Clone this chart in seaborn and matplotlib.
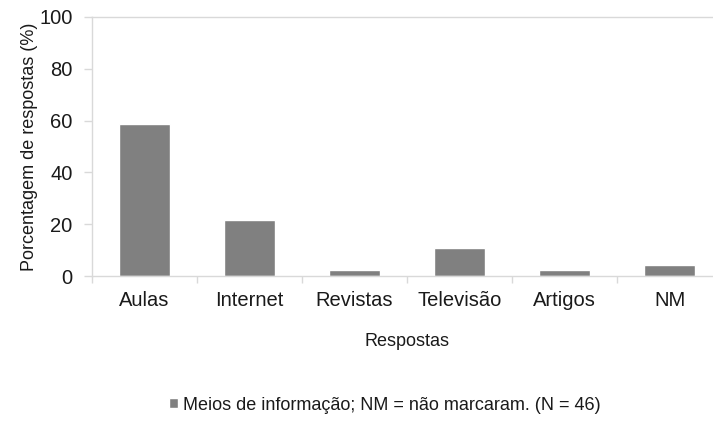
import matplotlib
matplotlib.use('Agg')
import matplotlib.pyplot as plt
import seaborn as sns
import pandas as pd

# ─── Data ───────────────────────────────────────────────────────────────────
categorias = ['Aulas', 'Internet', 'Revistas', 'Televisão', 'Artigos', 'NM']
porcentagens = [58.7, 21.7, 2.2, 10.9, 2.2, 4.3]
y_ticks = [0, 20, 40, 60, 80, 100]
legenda = 'Meios de informação; NM = não marcaram. (N = 46)'

df = pd.DataFrame({'resposta': categorias, 'pct': porcentagens})

sns.set_style('white')
plt.rcParams['font.family'] = ['Liberation Sans', 'DejaVu Sans']
plt.rcParams['text.color'] = '#1a1a1a'

axis_grey = '#d9d9d9'

fig = plt.figure(figsize=(7.13, 4.21), dpi=100)
ax = fig.add_axes([92 / 713, 1 - 276 / 421, 630 / 713, 259 / 421])

sns.barplot(data=df, x='resposta', y='pct', color='#808080', width=0.49,
            saturation=1, label=legenda, ax=ax)
if ax.get_legend() is not None:
    ax.get_legend().remove()

ax.set_ylim(0, 100)
ax.set_xlim(-0.5, len(categorias) - 0.5)
ax.set_yticks(y_ticks)
ax.set_yticklabels([str(t) for t in y_ticks], fontsize=14.5, color='#1a1a1a')
ax.set_xticklabels(categorias, fontsize=14.5, color='#1a1a1a')

# category separators as minor ticks
ax.set_xticks([i - 0.5 for i in range(len(categorias) + 1)], minor=True)
ax.tick_params(axis='x', which='major', length=0, pad=11)
ax.tick_params(axis='x', which='minor', length=5, width=1, color=axis_grey,
               direction='out', bottom=True)
ax.tick_params(axis='y', length=6, width=1, color=axis_grey, direction='out',
               pad=8, left=True)

for side in ['left', 'bottom', 'top']:
    ax.spines[side].set_color(axis_grey)
    ax.spines[side].set_linewidth(1)
ax.spines['right'].set_visible(False)

ax.set_xlabel('Respostas', fontsize=13, labelpad=16, color='#1a1a1a')
ax.set_ylabel('Porcentagem de respostas (%)', fontsize=13, labelpad=1,
              color='#1a1a1a')

handles, labels = ax.get_legend_handles_labels()
fig.legend(handles, labels, loc='center', bbox_to_anchor=(385 / 713, 1 - 405 / 421),
           frameon=False, fontsize=13, handlelength=0.48, handleheight=0.48,
           handletextpad=0.3)

fig.savefig('out.png', dpi=100)
